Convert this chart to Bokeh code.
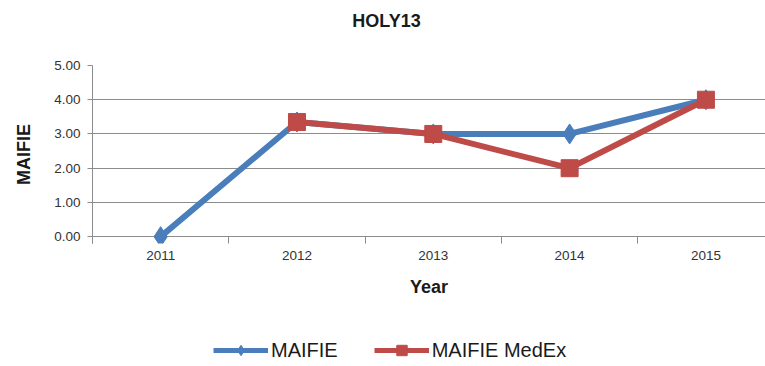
from bokeh.plotting import figure
from bokeh.layouts import column
from bokeh.models import (Range1d, FixedTicker, NumeralTickFormatter, Legend,
                          LegendItem, ColumnDataSource, Label)
from bokeh.embed import file_html
from bokeh.resources import INLINE

# Annual MAIFIE values for circuit HOLY13
years = ["2011", "2012", "2013", "2014", "2015"]
maifie = [0.0, 3.35, 3.0, 3.0, 4.0]
maifie_medex = [float("nan"), 3.35, 3.0, 2.0, 4.0]
y_ticks = [0, 1, 2, 3, 4, 5]
series_names = ["MAIFIE", "MAIFIE MedEx"]
chart_title = "HOLY13"

BLUE = "#4A7EBB"
RED = "#BE4B48"
GRID = "#8C8C8C"
FONT = "Liberation Sans"
W = 765
LEFT = 92   # width of the left border (y axis area); the column aligns all frames to it


def blank(height):
    # header/footer strip; its frame is aligned with the main plot frame,
    # and the x range is set so that x is measured in page pixels
    f = figure(width=W, height=height, output_backend="svg", toolbar_location=None,
               x_axis_type=None, y_axis_type=None,
               x_range=Range1d(LEFT, W), y_range=Range1d(0, height),
               min_border=0, min_border_left=LEFT)
    f.outline_line_color = None
    f.grid.visible = False
    return f


# ---- header with the chart title
head = blank(45)
head.add_layout(Label(x=386, y=25, text=chart_title, text_align="center",
                      text_baseline="middle", text_font=FONT, text_font_size="18px",
                      text_font_style="bold", text_color="#1a1a1a"))

# ---- main plot
idx = list(range(len(years)))
src = ColumnDataSource(dict(x=idx, maifie=maifie, medex=maifie_medex))

p = figure(width=W, height=265, output_backend="svg", toolbar_location=None,
           x_range=Range1d(-0.5, len(years) - 0.563),
           y_range=Range1d(-0.2, y_ticks[-1]),
           min_border_left=LEFT, min_border_right=0,
           min_border_top=20, min_border_bottom=67)
p.outline_line_color = None

p.xgrid.visible = False
p.ygrid.grid_line_color = GRID
p.ygrid.grid_line_width = 1

# x axis: year labels at category centres, tick marks between categories
xa = p.xaxis[0]
xa.ticker = FixedTicker(ticks=idx, minor_ticks=[i - 0.5 for i in range(len(years) + 1)])
xa.major_label_overrides = {i: y for i, y in zip(idx, years)}
xa.axis_line_color = None
xa.major_tick_line_color = None
xa.major_tick_out = 0
xa.major_tick_in = 0
xa.minor_tick_line_color = GRID
xa.minor_tick_in = 7
xa.minor_tick_out = 0
xa.major_label_standoff = 7
xa.major_label_text_font = FONT
xa.major_label_text_font_size = "13.5px"
xa.major_label_text_color = "#333333"
xa.axis_label = "Year"
xa.axis_label_text_font = FONT
xa.axis_label_text_font_size = "18px"
xa.axis_label_text_font_style = "bold"
xa.axis_label_text_color = "#1a1a1a"
xa.axis_label_standoff = 14

# y axis
ya = p.yaxis[0]
ya.ticker = FixedTicker(ticks=y_ticks, minor_ticks=[])
ya.formatter = NumeralTickFormatter(format="0.00")
ya.axis_line_color = GRID
ya.major_tick_line_color = GRID
ya.major_tick_out = 5
ya.major_tick_in = 0
ya.minor_tick_line_color = None
ya.major_label_standoff = 7
ya.major_label_text_font = FONT
ya.major_label_text_font_size = "13.5px"
ya.major_label_text_color = "#333333"
ya.axis_label = "MAIFIE"
ya.axis_label_text_font = FONT
ya.axis_label_text_font_size = "18px"
ya.axis_label_text_font_style = "bold"
ya.axis_label_text_color = "#1a1a1a"
ya.axis_label_standoff = 17

# series
p.line("x", "maifie", source=src, line_color=BLUE, line_width=6)
p.scatter("x", "maifie", source=src, marker="diamond", size=20,
          fill_color=BLUE, line_color=BLUE)
p.line("x", "medex", source=src, line_color=RED, line_width=6)
p.scatter("x", "medex", source=src, marker="square", size=17,
          fill_color=RED, line_color=RED)

# ---- legend strip below the plot (renderers hold no drawable points)
foot = blank(56)
nothing = ColumnDataSource(dict(x=[float("nan")], y=[float("nan")]))
fl1 = foot.line("x", "y", source=nothing, line_color=BLUE, line_width=5)
fs1 = foot.scatter("x", "y", source=nothing, marker="diamond", size=12,
                   fill_color=BLUE, line_color=BLUE)
fl2 = foot.line("x", "y", source=nothing, line_color=RED, line_width=5)
fs2 = foot.scatter("x", "y", source=nothing, marker="square", size=10,
                   fill_color=RED, line_color=RED)
legend = Legend(items=[LegendItem(label=series_names[0], renderers=[fl1, fs1]),
                       LegendItem(label=series_names[1], renderers=[fl2, fs2])],
                orientation="horizontal", location=(213 - LEFT, 3))
legend.glyph_width = 55
legend.glyph_height = 26
legend.label_standoff = 3
legend.spacing = 36
legend.padding = 0
legend.margin = 0
legend.border_line_color = None
legend.background_fill_alpha = 0
legend.label_text_font = FONT
legend.label_text_font_size = "20px"
legend.label_text_color = "#1a1a1a"
foot.add_layout(legend)

layout = column(head, p, foot, spacing=0)
open("out.html", "w").write(file_html(layout, INLINE))
